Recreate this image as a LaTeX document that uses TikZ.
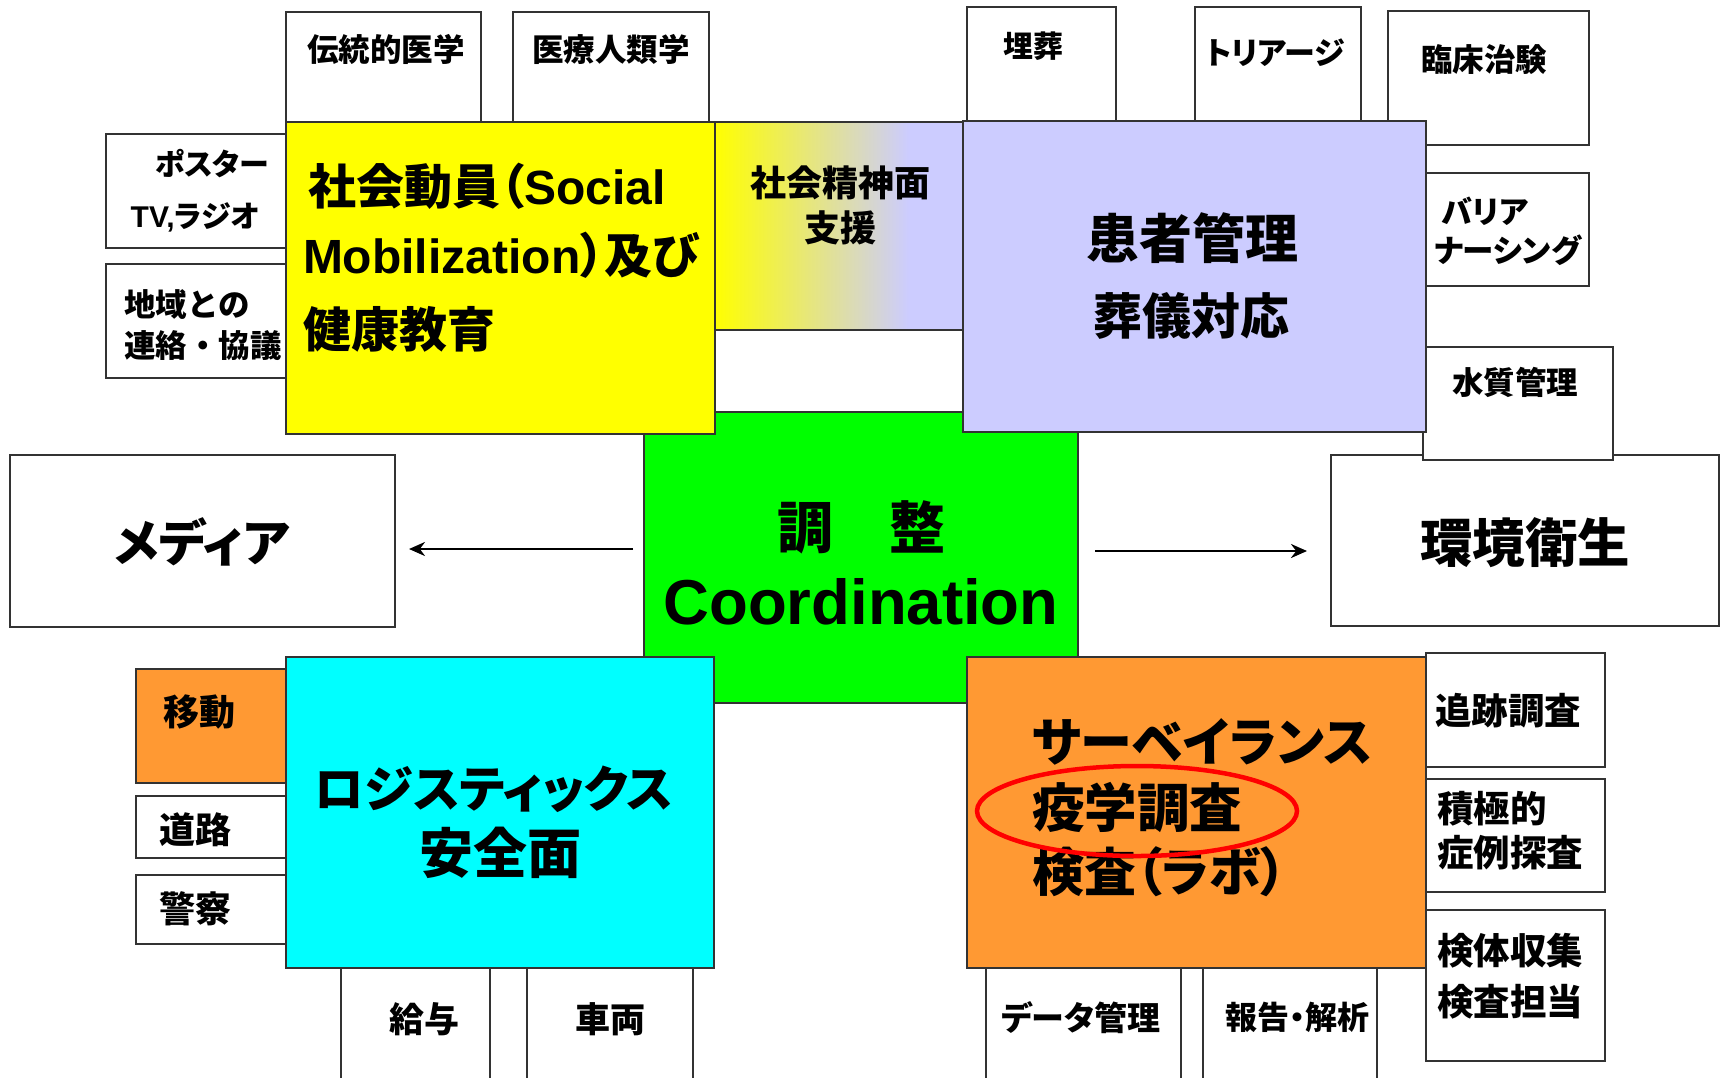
\documentclass[tikz,border=0pt]{standalone}
\usepackage{fontspec}
\setmainfont{Liberation Sans}
\newfontfamily\jp{Noto Sans CJK JP}[RawFeature=+palt]
\newfontfamily\jpf{Noto Sans CJK JP}
\usetikzlibrary{arrows.meta,shapes.geometric}
\definecolor{ylw}{HTML}{FFFF00}
\definecolor{lav}{HTML}{CCCCFF}
\definecolor{org}{HTML}{FF9933}
\definecolor{grn}{HTML}{00FF00}
\definecolor{cyn}{HTML}{00FFFF}
\pgfdeclarehorizontalshading{ylav}{100bp}{color(0bp)=(ylw); color(25bp)=(ylw); color(64bp)=(lav); color(100bp)=(lav)}
\newcommand\fz[2]{\fontsize{#1pt}{#2pt}\selectfont}
\newcommand\bx[6]{\node[#6, anchor=north west, inner sep=0pt, outer sep=0pt, minimum width={#4pt-#2pt}, minimum height={#5pt-#3pt}] (#1) at (#2,#3) {};}
\tikzset{
  box/.style={draw=black!80, line width=1.5pt, fill=white},
  txt/.style={inner sep=0pt, outer sep=0pt, font=\jp\bfseries\fz{#1}{#1}},
  txt/.default=31,
  arr/.style={line width=2.6pt, -{Stealth[length=16pt, width=14pt]}},
}
\begin{document}
\begin{tikzpicture}[x=1pt, y=-1pt]
\useasboundingbox (0,0) rectangle (1721,1077);
\clip (0,0) rectangle (1721,1077);
% centre
\bx{green}{644}{412}{1078}{703}{box, fill=grn}
% small boxes
\bx{bdento}{286}{12}{481}{122}{box}
\bx{biryo}{513}{12}{709}{122}{box}
\bx{bposter}{106}{134}{286}{248}{box}
\bx{bchiiki}{106}{264}{286}{378}{box}
\bx{bmaiso}{967}{7}{1116}{121}{box}
\bx{btriage}{1195}{7}{1361}{121}{box}
\bx{brinsho}{1388}{11}{1589}{145}{box}
\bx{bbarrier}{1426}{173}{1589}{286}{box}
\bx{bkankyo}{1331}{455}{1719}{626}{box}
\bx{bsuishitsu}{1423}{347}{1613}{460}{box}
\bx{bmedia}{10}{455}{395}{627}{box}
\bx{bido}{136}{669}{286}{783}{box, fill=org}
\bx{bdoro}{136}{796}{286}{858}{box}
\bx{bkeisatsu}{136}{875}{286}{944}{box}
\bx{bkyuyo}{341}{968}{490}{1095}{box}
\bx{bsharyo}{527}{968}{693}{1095}{box}
\bx{bdata}{986}{968}{1181}{1095}{box}
\bx{bhokoku}{1203}{968}{1377}{1095}{box}
\bx{btsuiseki}{1426}{653}{1605}{767}{box}
\bx{bsekkyoku}{1426}{779}{1605}{892}{box}
\bx{bkentai}{1426}{910}{1605}{1061}{box}
% big boxes
\bx{yellow}{286}{122}{715}{434}{box, fill=ylw}
\bx{grad}{715}{122}{963}{330}{box, shading=ylav}
\bx{lavender}{963}{121}{1426}{432}{box, fill=lav}
\bx{cyan}{286}{657}{714}{968}{box, fill=cyn}
\bx{orange}{967}{657}{1426}{968}{box, fill=org}
% texts
\node[txt=48, anchor=west] (ty1) at (308,186) {社会動員（{\rmfamily Social}};
\node[txt=48, anchor=west] (ty2) at (303,255) {{\rmfamily Mobilization}）及び};
\node[txt=48, anchor=west] (ty3) at (303,329) {健康教育};
\node[txt, font=\jp\bfseries\fz{36}{45}, align=center] (tgrad) at (840,205) {社会精神面\\支援};
\node[txt=53] (tlav1) at (1192,238) {患者管理};
\node[txt=49] (tlav2) at (1191,316) {葬儀対応};
\node[txt=31.5] (tdento) at (386,49) {伝統的医学};
\node[txt=31.5] (tiryo) at (611,49) {医療人類学};
\node[txt=30] (tposter) at (212,164) {ポスター};
\node[txt=30] (ttv) at (195,217) {{\rmfamily TV,}ラジオ};
\node[txt, font=\jpf\bfseries\fz{31.5}{41}, align=left, anchor=west] (tchiiki) at (124,325) {地域との\\連絡・協議};
\node[txt=30] (tmaiso) at (1033,46) {埋葬};
\node[txt] (ttriage) at (1275,53) {トリアージ};
\node[txt=31.5] (trinsho) at (1484,60) {臨床治験};
\node[txt, anchor=west] (tbarrier1) at (1442,211) {バリア};
\node[txt=31.5, anchor=west] (tbarrier2) at (1434,250) {ナーシング};
\node[txt=31.5] (tsuishitsu) at (1515,382) {水質管理};
\node[txt=52.5] (tkankyo) at (1525,543) {環境衛生};
\node[txt=50] (tmedia) at (202,542) {メディア};
\node[txt=56] (tchosei) at (861,527) {調　整};
\node[inner sep=0pt, font=\bfseries\fz{63.5}{63.5}] (tcoord) at (861,602) {Coordination};
\node[txt=49.5] (tcyan1) at (494,789) {ロジスティックス};
\node[txt=54] (tcyan2) at (500,853) {安全面};
\node[txt=52, anchor=west] (ts1) at (1032,742) {サーベイランス};
\node[txt=52.5, anchor=west] (ts2) at (1032,807) {疫学調査};
\node[txt=52, anchor=west] (ts3) at (1032,872) {検査（ラボ）};
\node[draw=red, line width=4.5pt, ellipse, minimum width=320pt, minimum height=90pt, inner sep=0pt] (ring) at (1137,811) {};
\node[txt=36] (tido) at (199,712) {移動};
\node[txt=36] (tdoro) at (195,830) {道路};
\node[txt=36] (tkeisatsu) at (195,909) {警察};
\node[txt=35] (tkyuyo) at (424,1019) {給与};
\node[txt=35] (tsharyo) at (610,1019) {車両};
\node[txt=36.5, anchor=west] (ttsuiseki) at (1435,711) {追跡調査};
\node[txt, font=\jp\bfseries\fz{36.5}{44}, align=left, anchor=west] (tsekkyoku) at (1437,831) {積極的\\症例探査};
\node[txt, font=\jp\bfseries\fz{36.5}{51}, align=left, anchor=west] (tkentai) at (1437,976) {検体収集\\検査担当};
\node[txt=33] (tdata) at (1081,1018) {データ管理};
\node[txt=32] (thokoku) at (1297,1017) {報告・解析};
% arrows
\coordinate (la1) at (633,549);
\coordinate (la2) at (409,549);
\coordinate (ra1) at (1095,551);
\coordinate (ra2) at (1307,551);
\draw[arr] (la1) -- (la2);
\draw[arr] (ra1) -- (ra2);
\end{tikzpicture}
\end{document}
